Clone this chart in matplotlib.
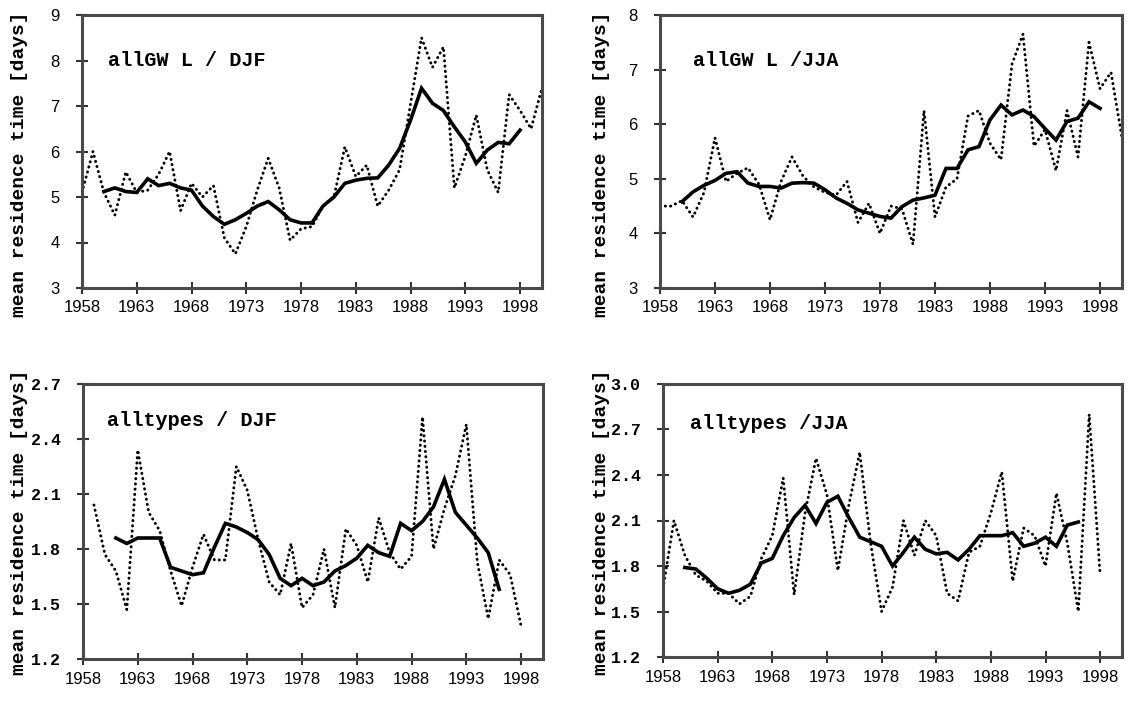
import matplotlib
matplotlib.use("Agg")
import matplotlib.pyplot as plt
import numpy as np

# ---------------- data ----------------
years_top = list(range(1958, 2001))
years_top_mean = list(range(1960, 1999))

gwl_djf = [5.1, 6.0, 5.1, 4.6, 5.55, 5.1, 5.15, 5.5, 6.0, 4.7,
           5.3, 5.0, 5.25, 4.1, 3.75, 4.35, 5.15, 5.85, 5.2, 4.05,
           4.3, 4.35, 4.8, 5.0, 6.1, 5.45, 5.7, 4.8, 5.15, 5.6,
           7.05, 8.5, 7.85, 8.3, 5.2, 5.9, 6.8, 5.6, 5.1, 7.25,
           6.9, 6.5, 7.4]
gwl_djf_mean = [5.12, 5.2, 5.12, 5.1, 5.4, 5.25, 5.3, 5.2, 5.15, 4.8,
                4.57, 4.4, 4.5, 4.64, 4.8, 4.9, 4.72, 4.5, 4.43, 4.43,
                4.8, 5.0, 5.3, 5.37, 5.41, 5.42, 5.7, 6.07, 6.69, 7.39,
                7.06, 6.9, 6.54, 6.21, 5.74, 6.03, 6.2, 6.17, 6.47]

gwl_jja = [4.5, 4.5, 4.6, 4.3, 4.75, 5.75, 4.95, 5.1, 5.2, 4.9,
           4.25, 4.95, 5.4, 5.05, 4.85, 4.75, 4.7, 4.95, 4.2, 4.55,
           4.0, 4.5, 4.45, 3.8, 6.25, 4.3, 4.85, 5.0, 6.15, 6.25,
           5.65, 5.35, 7.1, 7.65, 5.6, 5.9, 5.15, 6.25, 5.4, 7.5,
           6.65, 6.95, 5.75]
gwl_jja_mean = [4.58, 4.76, 4.88, 4.97, 5.1, 5.13, 4.92, 4.86, 4.86, 4.83,
                4.92, 4.93, 4.92, 4.8, 4.65, 4.55, 4.43, 4.37, 4.31, 4.28,
                4.49, 4.61, 4.65, 4.7, 5.19, 5.19, 5.53, 5.59, 6.08, 6.35,
                6.17, 6.26, 6.14, 5.92, 5.71, 6.05, 6.11, 6.41, 6.29]

years_bl = list(range(1959, 1999))
years_bl_mean = list(range(1961, 1997))
all_djf = [2.04, 1.77, 1.68, 1.47, 2.34, 2.0, 1.9, 1.68, 1.49, 1.7,
           1.88, 1.74, 1.74, 2.25, 2.12, 1.85, 1.62, 1.55, 1.83, 1.48,
           1.55, 1.8, 1.48, 1.91, 1.82, 1.62, 1.97, 1.78, 1.69, 1.76,
           2.52, 1.8, 2.02, 2.2, 2.48, 1.73, 1.42, 1.74, 1.66, 1.38]
all_djf_mean = [1.86, 1.83, 1.86, 1.86, 1.86, 1.70, 1.68, 1.66, 1.67, 1.81,
                1.94, 1.92, 1.89, 1.85, 1.77, 1.64, 1.60, 1.64, 1.60, 1.62,
                1.68, 1.71, 1.75, 1.82, 1.78, 1.76, 1.94, 1.90, 1.95, 2.03,
                2.18, 2.00, 1.93, 1.86, 1.78, 1.58]

years_br = list(range(1958, 1999))
years_br_mean = list(range(1960, 1997))
all_jja = [1.65, 2.1, 1.87, 1.74, 1.7, 1.62, 1.62, 1.55, 1.6, 1.85,
           2.0, 2.38, 1.61, 2.15, 2.51, 2.27, 1.77, 2.2, 2.55, 1.95,
           1.5, 1.66, 2.1, 1.87, 2.1, 2.0, 1.62, 1.57, 1.89, 1.93,
           2.15, 2.42, 1.7, 2.05, 2.0, 1.8, 2.28, 1.95, 1.5, 2.8,
           1.74]
all_jja_mean = [1.79, 1.78, 1.72, 1.65, 1.62, 1.64, 1.68, 1.82, 1.85, 2.0,
                2.12, 2.2, 2.08, 2.22, 2.26, 2.12, 1.99, 1.96, 1.93, 1.8,
                1.89, 1.99, 1.91, 1.88, 1.89, 1.84, 1.91, 2.0, 2.0, 2.0,
                2.02, 1.93, 1.95, 1.99, 1.93, 2.07, 2.09]

xtick_years = [1958, 1963, 1968, 1973, 1978, 1983, 1988, 1993, 1998]

titles = ["allGW L / DJF", "allGW L /JJA", "alltypes / DJF", "alltypes /JJA"]
ylabel = "mean residence time [days]"

# ---------------- figure ----------------
W, H = 1136, 701
fig = plt.figure(figsize=(W / 100, H / 100), dpi=100)


def px_axes(l, r, t, b):
    return fig.add_axes([l / W, 1 - b / H, (r - l) / W, (b - t) / H])


sans_tick = dict(family="Liberation Sans", size=12)
mono_tick = dict(family="Liberation Mono", size=12, weight="bold")

panels = [
    dict(box=(82, 542, 15, 288), x=years_top, y=gwl_djf, xm=years_top_mean, ym=gwl_djf_mean,
         ylim=(3, 9), yticks=[3, 4, 5, 6, 7, 8, 9], fmt="{:.0f}", yfont=sans_tick,
         title=titles[0], tpos=(0.057, 0.835)),
    dict(box=(660, 1122, 15, 288), x=years_top, y=gwl_jja, xm=years_top_mean, ym=gwl_jja_mean,
         ylim=(3, 8), yticks=[3, 4, 5, 6, 7, 8], fmt="{:.0f}", yfont=sans_tick,
         title=titles[1], tpos=(0.071, 0.835)),
    dict(box=(83, 543, 384, 659), x=years_bl, y=all_djf, xm=years_bl_mean, ym=all_djf_mean,
         ylim=(1.2, 2.7), yticks=[1.2, 1.5, 1.8, 2.1, 2.4, 2.7], fmt="{:.1f}", yfont=mono_tick,
         title=titles[2], tpos=(0.052, 0.869)),
    dict(box=(663, 1122, 384, 657), x=years_br, y=all_jja, xm=years_br_mean, ym=all_jja_mean,
         ylim=(1.2, 3.0), yticks=[1.2, 1.5, 1.8, 2.1, 2.4, 2.7, 3.0], fmt="{:.1f}", yfont=mono_tick,
         title=titles[3], tpos=(0.059, 0.857)),
]

for p in panels:
    ax = px_axes(*p["box"])
    ax.plot(p["x"], p["y"], color="black", lw=2.1, linestyle=(0, (0.1, 1.7)),
            dash_capstyle="round")
    ax.plot(p["xm"], p["ym"], color="black", lw=2.6, solid_joinstyle="miter")
    ax.set_xlim(1958, 2000)
    ax.set_ylim(*p["ylim"])
    ax.set_xticks(xtick_years)
    ax.set_xticklabels([str(y) for y in xtick_years], fontdict=sans_tick)
    ax.set_yticks(p["yticks"])
    ax.set_yticklabels([p["fmt"].format(v) for v in p["yticks"]], fontdict=p["yfont"])
    ax.tick_params(axis="both", direction="inout", length=8, width=1.5, color="#333333")
    ax.tick_params(axis="y", pad=12)
    ax.tick_params(axis="x", pad=5)
    for s in ax.spines.values():
        s.set_linewidth(2.2)
        s.set_color("#4a4a4a")
    ax.text(p["tpos"][0], p["tpos"][1], p["title"], transform=ax.transAxes,
            fontsize=14.5, family="Liberation Mono", fontweight="bold",
            va="center", ha="left")

# y-axis labels
for (xc, yc) in [(20, 164), (602, 164), (20, 522), (602, 522)]:
    fig.text(xc / W, 1 - yc / H, ylabel, rotation=90, ha="center", va="center",
             fontsize=14, family="Liberation Mono", fontweight="bold")

fig.savefig("out.png", dpi=100)
